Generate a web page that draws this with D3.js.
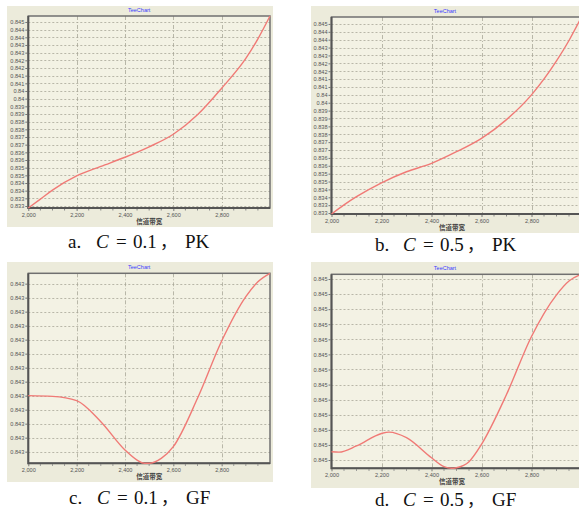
<!DOCTYPE html>
<html><head><meta charset="utf-8">
<script src="https://cdn.jsdelivr.net/npm/d3@7/dist/d3.min.js"></script>
<style>body{margin:0;background:#fff}svg{display:block}</style>
</head><body>
<svg id="c" width="579" height="515"></svg>
<script>
// ---- data ----
const xTicks = [2000, 2200, 2400, 2600, 2800];
const xTickLabels = ["2,000", "2,200", "2,400", "2,600", "2,800"];
const xTitle = "信道带宽";
const chartTitle = "TeeChart";

// panel a: C = 0.1, PK
const xA = [2000, 2050, 2100, 2200, 2300, 2400, 2500, 2600, 2700, 2800, 2900, 2950, 3000];
const yA = [0.83287, 0.83345, 0.83404, 0.83496, 0.83558, 0.83618, 0.83686, 0.83768, 0.83895, 0.84068, 0.84262, 0.84390, 0.84539];
// panel b: C = 0.5, PK
const xB = [2000, 2050, 2100, 2200, 2300, 2400, 2500, 2600, 2700, 2800, 2900, 2950, 3000];
const yB = [0.83294, 0.83352, 0.83404, 0.83492, 0.83562, 0.83615, 0.83689, 0.83774, 0.83893, 0.84050, 0.84265, 0.84395, 0.84544];
const pkTicks = [0.833, 0.8335, 0.834, 0.8345, 0.835, 0.8355, 0.836, 0.8365, 0.837, 0.8375, 0.838, 0.8385, 0.839, 0.8395, 0.840, 0.8405, 0.841, 0.8415, 0.842, 0.8425, 0.843, 0.8435, 0.844, 0.8445, 0.845];
const pkTickLabels = ["0.833", "0.833", "0.834", "0.834", "0.835", "0.835", "0.836", "0.836", "0.837", "0.837", "0.838", "0.838", "0.839", "0.839", "0.84", "0.84", "0.841", "0.841", "0.842", "0.842", "0.843", "0.843", "0.844", "0.844", "0.845"];

// panel c: C = 0.1, GF
const xC = [2000, 2100, 2200, 2300, 2400, 2450, 2480, 2500, 2550, 2600, 2700, 2800, 2900, 2950, 3000];
const yC = [0.8430000, 0.8429995, 0.8429964, 0.8429814, 0.8429612, 0.8429540, 0.8429517, 0.8429517, 0.8429552, 0.8429636, 0.8429981, 0.8430390, 0.8430707, 0.8430814, 0.8430874];
const gfCTicks = [0.84296, 0.84297, 0.84298, 0.84299, 0.84300, 0.84301, 0.84302, 0.84303, 0.84304, 0.84305, 0.84306, 0.84307, 0.84308];
const gfCTickLabels = ["0.843", "0.843", "0.843", "0.843", "0.843", "0.843", "0.843", "0.843", "0.843", "0.843", "0.843", "0.843", "0.843"];

// panel d: C = 0.5, GF
const xD = [2000, 2030, 2100, 2200, 2230, 2300, 2400, 2450, 2480, 2500, 2550, 2600, 2700, 2800, 2900, 2950, 3000];
const yD = [0.8449655, 0.8449652, 0.8449693, 0.8449776, 0.8449785, 0.8449748, 0.8449615, 0.8449556, 0.8449545, 0.8449549, 0.8449589, 0.8449704, 0.8450034, 0.8450419, 0.8450695, 0.8450787, 0.8450831];
const gfDTicks = [0.84496, 0.84497, 0.84498, 0.84499, 0.84500, 0.84501, 0.84502, 0.84503, 0.84504, 0.84505, 0.84506, 0.84507, 0.84508];
const gfDTickLabels = ["0.845", "0.845", "0.845", "0.845", "0.845", "0.845", "0.845", "0.845", "0.845", "0.845", "0.845", "0.845", "0.845"];

const captions = [
  ["a.", "C", "=", "0.1", "，", "PK"],
  ["b.", "C", "=", "0.5", "，", "PK"],
  ["c.", "C", "=", "0.1", "，", "GF"],
  ["d.", "C", "=", "0.5", "，", "GF"]
];

// ---- layout ----
const panels = [
  {xs: xA, ys: yA, ticks: pkTicks, labels: pkTickLabels, bg: [7, 6, 266, 221], plot: [28.3, 16, 270, 208], cap: [68, 248], caption: captions[0]},
  {xs: xB, ys: yB, ticks: pkTicks, labels: pkTickLabels, bg: [311, 6, 280, 227], plot: [331.5, 17, 581.5, 214], cap: [375, 251], caption: captions[1]},
  {xs: xC, ys: yC, ticks: gfCTicks, labels: gfCTickLabels, bg: [7, 262, 266, 220], plot: [28.3, 273.3, 270, 463.3], cap: [69, 504], caption: captions[2]},
  {xs: xD, ys: yD, ticks: gfDTicks, labels: gfDTickLabels, bg: [311, 262, 280, 226], plot: [331.5, 274.3, 581.5, 468.3], cap: [375, 506], caption: captions[3]}
];
const capOffsets = [0, 28, 48, 65, 92, 117];

const svg = d3.select("#c");

panels.forEach(p => {
  const g = svg.append("g");
  const [L, T, R, B] = p.plot;
  const data = p.xs.map((x, i) => ({x, y: p.ys[i]}));
  const x = d3.scaleLinear().domain([2000, 3000]).range([L, R]);
  const y = d3.scaleLinear().domain(d3.extent(p.ys)).range([B, T]);

  g.append("rect").attr("x", p.bg[0]).attr("y", p.bg[1]).attr("width", p.bg[2]).attr("height", p.bg[3])
    .attr("fill", "#ecebdb");
  g.append("rect").attr("x", L).attr("y", T).attr("width", R - L).attr("height", B - T)
    .attr("fill", "#f3f2e4");

  // grid
  const clip = "clip" + Math.round(L) + "_" + Math.round(T);
  g.append("clipPath").attr("id", clip).append("rect").attr("x", L).attr("y", T).attr("width", R - L).attr("height", B - T);
  const grid = g.append("g").attr("clip-path", `url(#${clip})`);
  grid.selectAll("line.h").data(p.ticks).join("line").attr("class", "h")
    .attr("x1", L).attr("x2", R).attr("y1", d => Math.round(y(d)) + 0.5).attr("y2", d => Math.round(y(d)) + 0.5)
    .attr("stroke", "#a8a798").attr("stroke-width", 0.8).attr("stroke-dasharray", "2,2");
  grid.selectAll("line.v").data(xTicks.slice(1)).join("line").attr("class", "v")
    .attr("y1", T).attr("y2", B).attr("x1", d => Math.round(x(d)) + 0.5).attr("x2", d => Math.round(x(d)) + 0.5)
    .attr("stroke", "#a8a798").attr("stroke-width", 0.8).attr("stroke-dasharray", "4,2,1,2");

  // axes
  const yAxis = d3.axisLeft(y).tickValues(p.ticks).tickFormat((d, i) => p.labels[i]).tickSize(2).tickPadding(1);
  const ya = g.append("g").attr("transform", `translate(${L - 1},0)`).call(yAxis);
  ya.select(".domain").remove();
  ya.selectAll("line").attr("stroke", "#777");
  ya.selectAll("text").attr("font-family", "Arial, 'Liberation Sans', sans-serif").attr("font-size", 5.6).attr("fill", "#555");

  const xAxis = d3.axisBottom(x).tickValues(xTicks).tickFormat((d, i) => xTickLabels[i]).tickSize(2).tickPadding(2);
  const xa = g.append("g").attr("transform", `translate(0,${B + 1})`).call(xAxis);
  xa.select(".domain").remove();
  xa.selectAll("line").attr("stroke", "#777");
  xa.selectAll("text").attr("font-family", "Arial, 'Liberation Sans', sans-serif").attr("font-size", 5.6).attr("fill", "#555");
  const minor = d3.range(2050, 3000, 50).filter(v => v % 200 !== 0);
  xa.selectAll("line.minor").data(minor).join("line").attr("class", "minor")
    .attr("x1", d => x(d)).attr("x2", d => x(d)).attr("y1", 0).attr("y2", 1.5).attr("stroke", "#888");

  // frame
  g.append("rect").attr("x", L).attr("y", T).attr("width", R - L).attr("height", B - T)
    .attr("fill", "none").attr("stroke", "#707070").attr("stroke-width", 1.5);
  g.append("line").attr("x1", L).attr("x2", L).attr("y1", T).attr("y2", B + 1).attr("stroke", "#555").attr("stroke-width", 2);
  g.append("line").attr("x1", L).attr("x2", R).attr("y1", B).attr("y2", B).attr("stroke", "#555").attr("stroke-width", 2);

  // line
  g.append("path").datum(data)
    .attr("d", d3.line().x(d => x(d.x)).y(d => y(d.y)).curve(d3.curveMonotoneX))
    .attr("fill", "none").attr("stroke", "#f07a76").attr("stroke-width", 1.4);

  // titles
  const cx = R > 579 ? 445 : (L + R) / 2 - 10;
  g.append("text").attr("x", cx).attr("y", T - 4).attr("text-anchor", "middle")
    .attr("font-family", "Arial, 'Liberation Sans', sans-serif").attr("font-size", 5.5).attr("fill", "#3a3aff").text(chartTitle);
  g.append("text").attr("x", R > 579 ? 452 : (L + R) / 2).attr("y", B + 16).attr("text-anchor", "middle")
    .attr("font-family", "'Noto Sans CJK SC', sans-serif").attr("font-size", 6.5).attr("font-weight", "bold").attr("fill", "#444").text(xTitle);

  // caption
  const cap = g.append("text").attr("y", p.cap[1])
    .attr("font-family", "'Liberation Serif', 'Times New Roman', serif").attr("font-size", 19).attr("fill", "#111");
  p.caption.forEach((s, i) => {
    const t = cap.append("tspan").attr("x", p.cap[0] + capOffsets[i]).text(s);
    if (i === 1) t.attr("font-style", "italic");
    if (i === 4) t.attr("font-family", "'Noto Sans CJK SC', sans-serif").attr("font-size", 17);
  });
});
</script>
</body></html>
